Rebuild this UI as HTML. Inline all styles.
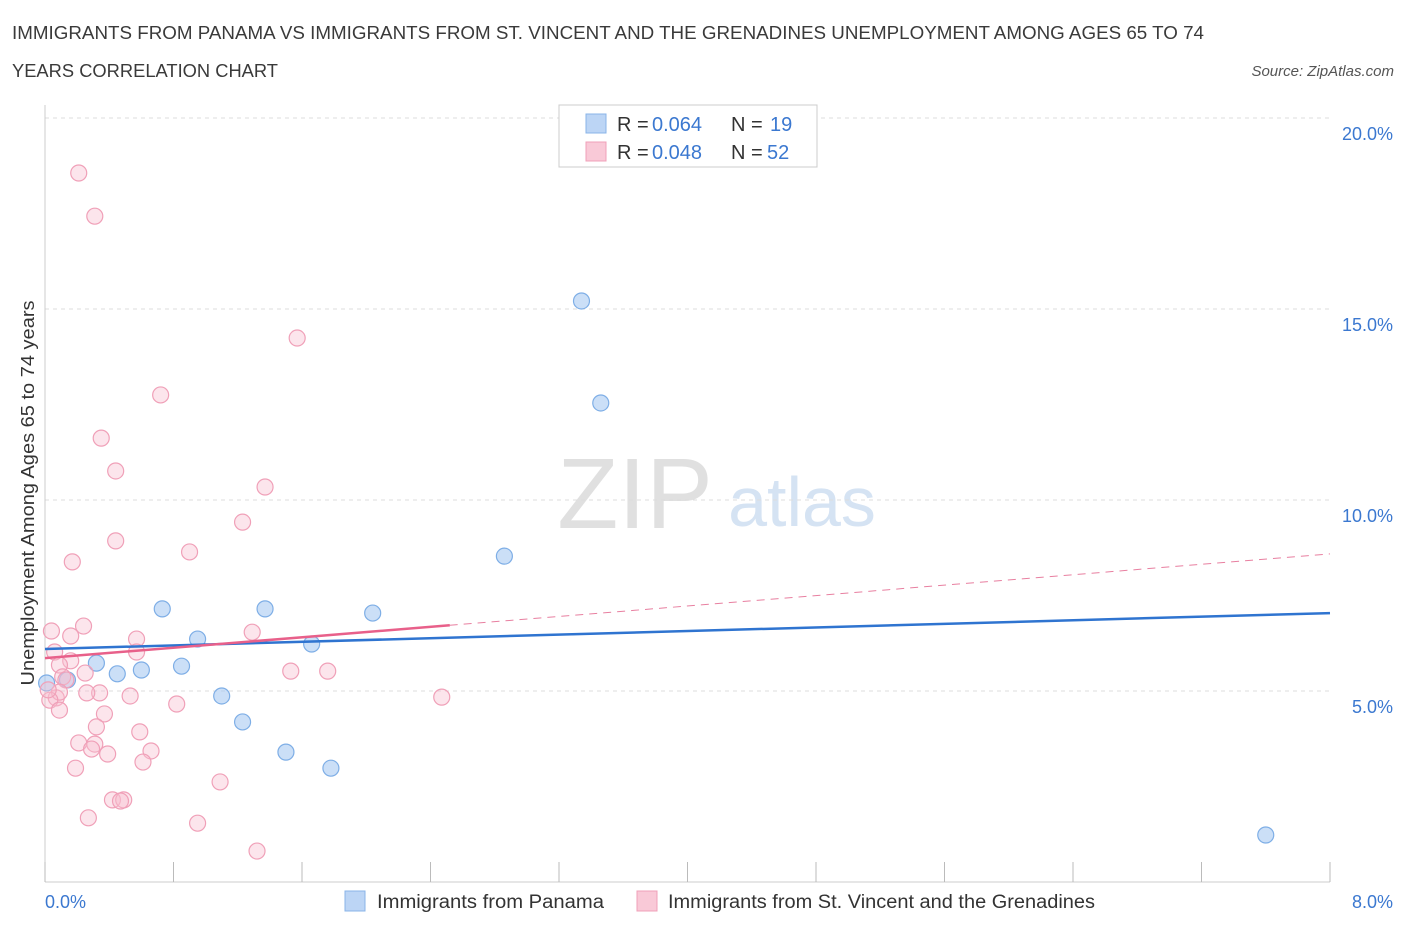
<!DOCTYPE html>
<html><head><meta charset="utf-8"><style>
body{margin:0;background:#fff;font-family:"Liberation Sans",sans-serif;}
svg text{font-family:"Liberation Sans",sans-serif;}
</style></head><body>
<svg id="chart" width="1406" height="930" viewBox="0 0 1406 930" xmlns="http://www.w3.org/2000/svg">
<text x="12" y="39" font-size="18" fill="#3a3a3a" textLength="1192" lengthAdjust="spacingAndGlyphs">IMMIGRANTS FROM PANAMA VS IMMIGRANTS FROM ST. VINCENT AND THE GRENADINES UNEMPLOYMENT AMONG AGES 65 TO 74</text>
<text x="12" y="77" font-size="18" fill="#3a3a3a" textLength="266" lengthAdjust="spacingAndGlyphs">YEARS CORRELATION CHART</text>
<text x="1394" y="76" font-size="15" fill="#555" font-style="italic" text-anchor="end">Source: ZipAtlas.com</text>
<g>
<text x="635" y="528" font-size="100" fill="#e0e0e0" font-family="Liberation Serif,serif" text-anchor="middle">ZIP</text>
<text x="802" y="526" font-size="70" fill="#d5e3f3" text-anchor="middle">atlas</text>
</g>
<g id="grid"></g>
<line x1="45" y1="882" x2="1330" y2="882" stroke="#ccc"/>
<line x1="45" y1="105" x2="45" y2="882" stroke="#ccc"/>
<g id="xticks"></g>
<g id="trends"></g>
<g id="points"></g>
<text transform="translate(34,493) rotate(-90)" font-size="18" fill="#333" text-anchor="middle" textLength="385" lengthAdjust="spacingAndGlyphs">Unemployment Among Ages 65 to 74 years</text>
<text x="45" y="908" font-size="18" fill="#3b78d0">0.0%</text>
<text x="1393" y="908" font-size="18" fill="#3b78d0" text-anchor="end">8.0%</text>
<g>
<rect x="559" y="105" width="258" height="62" fill="#fff" stroke="#ccc"/>
<rect x="586" y="114" width="20" height="19" fill="#bcd5f5" stroke="#8ab4e8"/>
<rect x="586" y="142" width="20" height="19" fill="#f9c9d7" stroke="#f0a0b8"/>
<text x="617" y="131" font-size="20" fill="#333">R =</text>
<text x="652" y="131" font-size="20" fill="#3b78d0">0.064</text>
<text x="731" y="131" font-size="20" fill="#333">N =</text>
<text x="770" y="131" font-size="20" fill="#3b78d0">19</text>
<text x="617" y="159" font-size="20" fill="#333">R =</text>
<text x="652" y="159" font-size="20" fill="#3b78d0">0.048</text>
<text x="731" y="159" font-size="20" fill="#333">N =</text>
<text x="767" y="159" font-size="20" fill="#3b78d0">52</text>
</g>
<g>
<rect x="345" y="891" width="20" height="20" fill="#bcd5f5" stroke="#8ab4e8"/>
<text x="377" y="908" font-size="19" fill="#333" textLength="227" lengthAdjust="spacingAndGlyphs">Immigrants from Panama</text>
<rect x="637" y="891" width="20" height="20" fill="#f9c9d7" stroke="#f0a0b8"/>
<text x="668" y="908" font-size="19" fill="#333" textLength="427" lengthAdjust="spacingAndGlyphs">Immigrants from St. Vincent and the Grenadines</text>
</g>
</svg>
<script>
const yTicks=[5,10,15,20];
const yTickLabels=["5.0%","10.0%","15.0%","20.0%"];
const xTicks=[0,0.8,1.6,2.4,3.2,4.0,4.8,5.6,6.4,7.2,8.0];
const panamaX=[0.01,0.14,0.32,0.45,0.60,0.73,0.85,0.95,1.10,1.23,1.37,1.50,1.66,1.78,2.04,2.86,3.34,3.46,7.60];
const panamaY=[5.21,5.29,5.73,5.45,5.55,7.15,5.65,6.36,4.87,4.19,7.15,3.40,6.23,2.98,7.04,8.53,15.21,12.54,1.23];
const vincentX=[0.21,0.31,1.57,0.72,0.35,0.44,1.37,1.23,0.44,0.90,0.17,1.29,0.24,0.04,0.16,0.57,0.57,0.06,0.16,0.09,0.25,0.11,0.13,0.34,0.26,0.53,0.07,0.09,0.03,0.09,1.53,1.76,2.47,0.82,0.37,0.32,0.59,0.21,0.31,0.29,0.39,0.66,0.61,0.19,1.09,0.42,0.49,0.47,0.27,0.95,1.32,0.02];
const vincentY=[18.56,17.43,14.24,12.75,11.62,10.76,10.34,9.42,8.93,8.64,8.38,6.54,6.70,6.57,6.44,6.36,6.02,6.02,5.79,5.68,5.47,5.37,5.29,4.95,4.95,4.87,4.82,4.97,4.76,4.50,5.52,5.52,4.84,4.66,4.40,4.06,3.93,3.64,3.61,3.48,3.35,3.43,3.14,2.98,2.62,2.15,2.15,2.12,1.68,1.54,0.81,5.03];
const panamaTrend=[6.10,7.04];
const vincentTrend=[5.86,8.59];
const vincentSolidEnd=2.52;

const NS="http://www.w3.org/2000/svg";
const X=v=>45+v/8*1285;
const Y=v=>882-v/20*764;
function mk(tag,attrs,parent){const e=document.createElementNS(NS,tag);for(const k in attrs)e.setAttribute(k,attrs[k]);parent.appendChild(e);return e;}
const grid=document.getElementById('grid');
yTicks.forEach((t,i)=>{
 const l=mk('line',{x1:45,x2:1330,y1:Y(t),y2:Y(t),stroke:'#ddd','stroke-dasharray':'4,4'},grid);
 
 
 const tx=mk('text',{x:1393,y:Y(t)+22,'font-size':18,fill:'#3b78d0','text-anchor':'end'},grid);
 tx.textContent=yTickLabels[i];
 
 
});
const xt=document.getElementById('xticks');
xTicks.forEach(t=>{
 const l=mk('line',{x1:X(t),x2:X(t),y1:862,y2:882,stroke:'#bbb'},xt);
 
 
});
const tr=document.getElementById('trends');
const lin=(a,x)=>a[0]+(a[1]-a[0])*x/8;
let e=mk('line',{x1:X(0),y1:Y(lin(vincentTrend,0)),x2:X(8),y2:Y(lin(vincentTrend,8)),stroke:'#e87fa0','stroke-width':1,'stroke-dasharray':'8,6'},tr);


const pts=document.getElementById('points');
panamaX.forEach((x,i)=>{
 const c=mk('circle',{cx:X(x),cy:Y(panamaY[i]),r:8,fill:'rgba(160,196,240,0.55)',stroke:'#7eaee6','stroke-width':1.2},pts);
 
 
});
vincentX.forEach((x,i)=>{
 const c=mk('circle',{cx:X(x),cy:Y(vincentY[i]),r:8,fill:'rgba(248,190,208,0.4)',stroke:'#f0a0b8','stroke-width':1.2},pts);
 
 
});
e=mk('line',{x1:X(0),y1:Y(lin(panamaTrend,0)),x2:X(8),y2:Y(lin(panamaTrend,8)),stroke:'#2f74d0','stroke-width':2.5},pts);


e=mk('line',{x1:X(0),y1:Y(lin(vincentTrend,0)),x2:X(vincentSolidEnd),y2:Y(lin(vincentTrend,vincentSolidEnd)),stroke:'#e8608a','stroke-width':2.5},pts);


</script>
</body></html>
